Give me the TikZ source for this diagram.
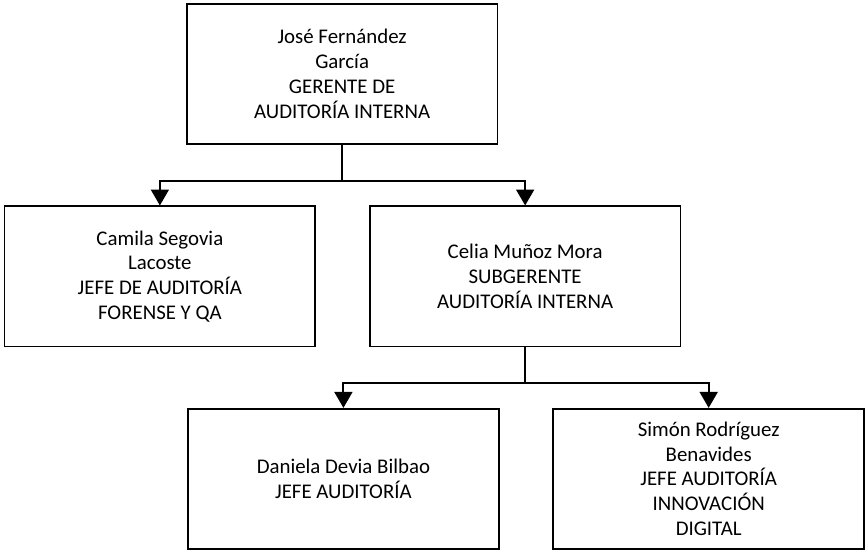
\documentclass[tikz,border=0pt]{standalone}
\usepackage{fontspec}
\setmainfont{Carlito}
\usetikzlibrary{positioning,calc,arrows.meta}

\begin{document}
\begin{tikzpicture}[
  font=\fontsize{21}{25}\selectfont, node distance=61pt and 53pt,
  box/.style={draw, line width=1.8pt, fill=white, align=center, minimum width=313pt, minimum height=141pt, inner sep=2pt},
  link/.style={line width=2pt},
  arr/.style={link, -{Triangle[length=16pt, width=18pt]}}]

\node[box] (ger) {José Fernández\\García\\GERENTE DE\\AUDITORÍA INTERNA};
\node[box, below=of ger, xshift=-183.5pt] (forense) {Camila Segovia\\Lacoste\\JEFE DE AUDITORÍA\\FORENSE Y QA};
\node[box, right=of forense] (sub) {Celia Muñoz Mora\\SUBGERENTE\\AUDITORÍA INTERNA};

% second level under the subgerente
\node[box, below=of sub, xshift=-183pt] (jefe) {Daniela Devia Bilbao\\JEFE AUDITORÍA};
\node[box, right=of jefe] (innov) {Simón Rodríguez\\Benavides\\JEFE AUDITORÍA\\INNOVACIÓN\\DIGITAL};

\useasboundingbox ($(ger.center)+(-344.5pt,74.5pt)$) rectangle ++(865pt,-555pt);

\draw[link] (ger.south) -- ++(0,-36.5pt) coordinate (j1);
\draw[arr] (j1) -| (forense.north);
\draw[arr] (j1) -| (sub.north);
\draw[link] (sub.south) -- ++(0,-36pt) coordinate (j2);
\draw[arr] (j2) -| (jefe.north);
\draw[arr] (j2) -| (innov.north);
\end{tikzpicture}
\end{document}
